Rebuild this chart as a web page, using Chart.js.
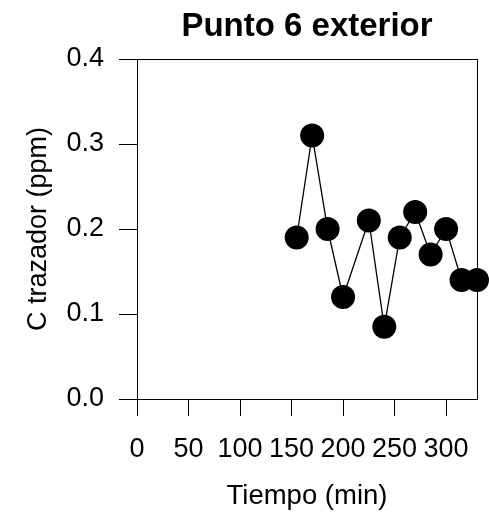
<!DOCTYPE html>
<html>
<head>
<meta charset="utf-8">
<script src="https://cdn.jsdelivr.net/npm/chart.js@4.4.1/dist/chart.umd.min.js"></script>
<style>
  html, body { margin: 0; padding: 0; background: #fff; }
  canvas { display: block; }
</style>
</head>
<body>
<canvas id="chart" width="489" height="520"></canvas>
<script>
// datos
const timeMin = [155, 170, 185, 200, 225, 240, 255, 270, 285, 300, 315, 330];
const concPpm = [0.19, 0.31, 0.20, 0.12, 0.21, 0.085, 0.19, 0.22, 0.17, 0.20, 0.14, 0.14];
const xTicks = [0, 50, 100, 150, 200, 250, 300];
const yTicks = [0.0, 0.1, 0.2, 0.3, 0.4];

Chart.defaults.font.family = "'Liberation Sans', Arial, sans-serif";
Chart.defaults.color = '#000';

// marco alrededor del area de dibujo
const boxPlugin = {
  id: 'box',
  afterDraw(chart) {
    const { ctx, chartArea: a } = chart;
    ctx.save();
    ctx.strokeStyle = '#000';
    ctx.lineWidth = 1;
    ctx.strokeRect(Math.round(a.left) + 0.5, Math.round(a.top) + 0.5,
      Math.round(a.right - a.left), Math.round(a.bottom - a.top));
    ctx.restore();
  }
};

const points = timeMin.map((t, i) => ({ x: t, y: concPpm[i] }));

new Chart(document.getElementById('chart').getContext('2d'), {
  type: 'scatter',
  data: {
    datasets: [{
      data: points,
      showLine: true,
      borderColor: '#000',
      borderWidth: 1.3,
      backgroundColor: '#000',
      pointRadius: 12,
      pointHoverRadius: 12,
      pointBorderWidth: 0,
      clip: false
    }]
  },
  options: {
    responsive: false,
    animation: false,
    layout: { padding: { left: 0, right: 12, top: 0, bottom: 0 } },
    plugins: {
      legend: { display: false },
      tooltip: { enabled: false },
      title: {
        display: true,
        fullSize: false,
        text: 'Punto 6 exterior',
        font: { size: 33, weight: 'bold' },
        padding: { top: 7, bottom: 12.4 }
      }
    },
    scales: {
      x: {
        type: 'linear',
        min: 0,
        max: 330,
        afterBuildTicks: s => { s.ticks = xTicks.map(v => ({ value: v })); },
        afterFit: s => { s.height = 121; },
        grid: { drawOnChartArea: false, drawTicks: true, tickLength: 17, color: '#000', lineWidth: 1 },
        border: { display: true, color: '#000', width: 1 },
        ticks: { font: { size: 27 }, padding: 17, maxRotation: 0, autoSkip: false },
        title: { display: true, text: 'Tiempo (min)', font: { size: 27.5 }, padding: { top: 0, bottom: 7.5 } }
      },
      y: {
        type: 'linear',
        min: 0,
        max: 0.4,
        afterBuildTicks: s => { s.ticks = yTicks.map(v => ({ value: v })); },
        afterFit: s => { s.width = 137; },
        grid: { drawOnChartArea: false, drawTicks: true, tickLength: 18, color: '#000', lineWidth: 1 },
        border: { display: true, color: '#000', width: 1 },
        ticks: { font: { size: 27 }, padding: 15, callback: v => v.toFixed(1) },
        title: { display: true, text: 'C trazador (ppm)', font: { size: 27 }, padding: { top: 22, bottom: 0 } }
      }
    }
  },
  plugins: [boxPlugin]
});
</script>
</body>
</html>
